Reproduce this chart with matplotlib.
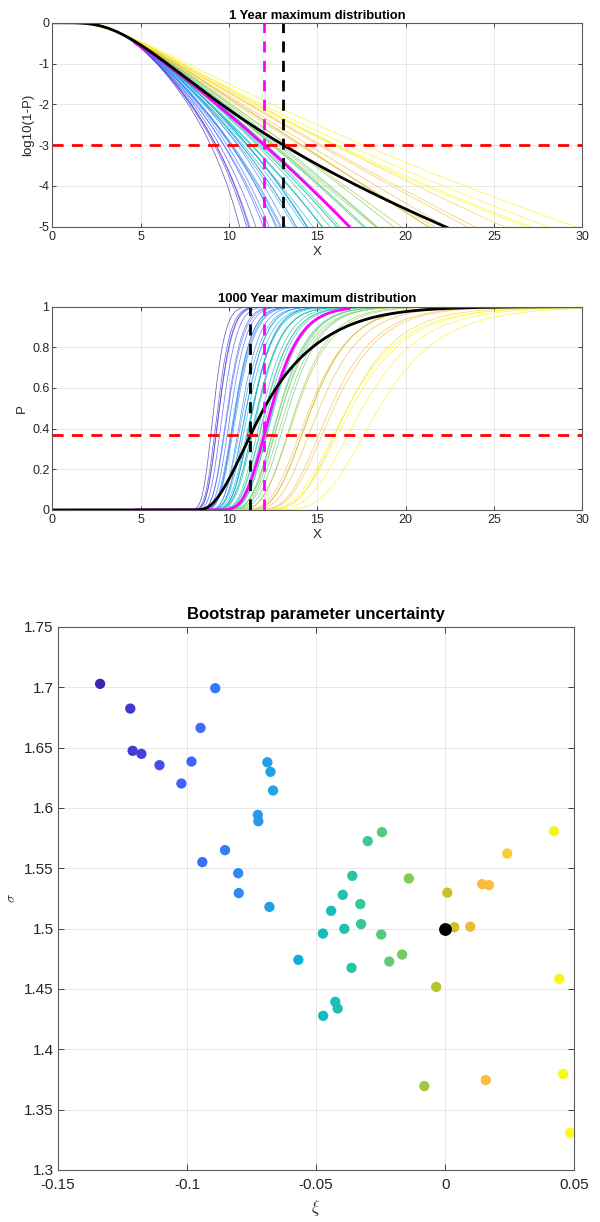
import numpy as np
import matplotlib.pyplot as plt
from matplotlib.colors import LinearSegmentedColormap
from matplotlib.ticker import FuncFormatter

plt.rcParams['font.family'] = ['Liberation Sans', 'DejaVu Sans']
plt.rcParams['mathtext.fontset'] = 'cm'

# bootstrap parameter estimates (shape xi, scale sigma)
xi = [-0.1337, -0.1220, -0.1211, -0.1177, -0.1107, -0.1022, -0.0983, -0.0948,
      -0.0891, -0.0941, -0.0853, -0.0802, -0.0800, -0.0726, -0.0724, -0.0689,
      -0.0677, -0.0667, -0.0681, -0.0569, -0.0245, -0.0300, -0.0360, -0.0141,
      0.0008, 0.0143, 0.0169, 0.0240, 0.0421, -0.0397, -0.0329, -0.0442,
      -0.0326, -0.0391, -0.0474, -0.0248, 0.0035, 0.0097, -0.0363, -0.0217,
      -0.0167, -0.0035, 0.0442, -0.0426, -0.0417, -0.0473, -0.0081, 0.0157,
      0.0457, 0.0484]
sigma = [1.7028, 1.6823, 1.6473, 1.6448, 1.6354, 1.6202, 1.6384, 1.6663,
         1.6992, 1.5551, 1.5650, 1.5459, 1.5294, 1.5942, 1.5890, 1.6378,
         1.6299, 1.6144, 1.5180, 1.4741, 1.5799, 1.5725, 1.5437, 1.5415,
         1.5298, 1.5368, 1.5360, 1.5622, 1.5807, 1.5280, 1.5203, 1.5147,
         1.5037, 1.4998, 1.4959, 1.4951, 1.5011, 1.5016, 1.4675, 1.4727,
         1.4785, 1.4517, 1.4584, 1.4393, 1.4338, 1.4277, 1.3695, 1.3745,
         1.3795, 1.3306]
true_xi = 0.0
true_sigma = 1.5

# events per year and the point where all fits agree (x, log10(1-P))
n_events = 14
x_pivot = 3.8
y_pivot = -0.25
n_years = 1000

# reference distribution (magenta), annual GEV, and its x range
ref_shape, ref_scale, ref_loc = -0.03, 1.38, 3.38
ref_range = (4.7, 16.8)

parula = LinearSegmentedColormap.from_list('parula', [
    (0.2422, 0.1504, 0.6603), (0.2706, 0.2147, 0.8364), (0.2813, 0.3006, 0.9414),
    (0.2699, 0.3892, 0.9906), (0.1963, 0.4847, 0.9892), (0.1687, 0.5703, 0.9359),
    (0.1248, 0.6459, 0.8883), (0.0297, 0.7082, 0.8163), (0.0964, 0.7500, 0.7120),
    (0.2161, 0.7843, 0.5923), (0.3909, 0.8029, 0.4354), (0.6174, 0.7876, 0.2612),
    (0.8203, 0.7498, 0.1535), (0.9728, 0.7298, 0.2394), (0.9892, 0.8136, 0.1885),
    (0.9597, 0.9135, 0.1423), (0.9769, 0.9839, 0.0805)])


def gev_t(x, k, s, m):
    # -log(F) of a GEV
    z = 1 + k * (x - m) / s
    with np.errstate(divide='ignore', invalid='ignore'):
        t = np.where(z > 0, np.abs(z) ** (-1.0 / k), np.inf if k > 0 else 0.0)
    return t


x = np.linspace(0, 30, 1501)
t0 = -np.log(1 - 10 ** y_pivot)
ts = []
for k, s in zip(xi, sigma):
    s_year = s * n_events ** k
    z0 = (t0 ** (-k) - 1) / k
    m = x_pivot - z0 * s_year
    ts.append(gev_t(x, k, s_year, m))
ts = np.array(ts)

exceed = -np.expm1(-ts)
with np.errstate(divide='ignore'):
    log_exceed = np.log10(exceed)
    mean_log_exceed = np.log10(exceed.mean(axis=0))
p_long = np.exp(-n_years * ts)
mean_p_long = p_long.mean(axis=0)

xr = np.linspace(ref_range[0], ref_range[1], 300)
tr = gev_t(xr, ref_shape, ref_scale, ref_loc)
ref_log_exceed = np.log10(-np.expm1(-tr))
ref_p_long = np.exp(-n_years * tr)

# where the curves cross the red levels
red_top = -3
red_mid = np.exp(-1)
black_top_x = np.interp(-red_top, -mean_log_exceed, x)
black_mid_x = np.interp(red_mid, mean_p_long, x)
mag_x = np.interp(-red_top, -ref_log_exceed, xr)

norm = plt.Normalize(min(xi), max(xi))
colors = parula(norm(np.array(xi)))

fig = plt.figure(figsize=(6, 12.22), dpi=100)
ax1 = fig.add_axes([0.0872, 0.8145, 0.8833, 0.1669])
ax2 = fig.add_axes([0.0872, 0.5827, 0.8833, 0.1664])
ax3 = fig.add_axes([0.0967, 0.0426, 0.8605, 0.4444])

fmt = FuncFormatter(lambda v, p: '%g' % round(v, 4))
dark = '#262626'


def style(ax, size, ticklen):
    ax.grid(True, color=dark, alpha=0.12, lw=0.6)
    ax.set_axisbelow(True)
    ax.tick_params(direction='in', top=True, right=True, length=ticklen,
                   width=0.6, labelsize=size, colors=dark, pad=2)
    for sp in ax.spines.values():
        sp.set_color('#5a5a5a')
        sp.set_linewidth(0.8)
    ax.xaxis.set_major_formatter(fmt)
    ax.yaxis.set_major_formatter(fmt)


# 1 year
for i in range(len(xi)):
    ax1.plot(x, log_exceed[i], color=colors[i], lw=0.55, alpha=0.75)
ax1.plot(xr, ref_log_exceed, color='#ff00ff', lw=2)
ax1.plot(x, mean_log_exceed, color='k', lw=2)
ax1.axhline(red_top, color='#ff0000', lw=2, ls=(0, (4, 3)))
ax1.axvline(mag_x, color='#ff00ff', lw=2, ls=(0, (4, 3)))
ax1.axvline(black_top_x, color='k', lw=2, ls=(0, (4, 3)))
ax1.set_xlim(0, 30)
ax1.set_ylim(-5, 0)
ax1.set_xticks(range(0, 31, 5))
ax1.set_yticks(range(-5, 1))
style(ax1, 9, 3)
ax1.tick_params(axis='x', pad=3)
ax1.set_xlabel('X', fontsize=9.5, color=dark, labelpad=2)
ax1.set_ylabel('log10(1-P)', fontsize=9.5, color=dark, labelpad=3)
ax1.set_title('1 Year maximum distribution', fontsize=9.4, fontweight='bold', pad=3)

# 1000 year
for i in range(len(xi)):
    ax2.plot(x, p_long[i], color=colors[i], lw=0.55, alpha=0.75)
ax2.plot(xr, ref_p_long, color='#ff00ff', lw=2)
ax2.plot(x, mean_p_long, color='k', lw=2)
ax2.axhline(red_mid, color='#ff0000', lw=2, ls=(0, (4, 3)))
ax2.axvline(black_mid_x, color='k', lw=2, ls=(0, (4, 3)))
ax2.axvline(mag_x, color='#ff00ff', lw=2, ls=(0, (4, 3)))
ax2.set_xlim(0, 30)
ax2.set_ylim(0, 1)
ax2.set_xticks(range(0, 31, 5))
ax2.set_yticks(np.arange(0, 1.01, 0.2))
style(ax2, 9, 3)
ax2.tick_params(axis='x', pad=3)
ax2.set_xlabel('X', fontsize=9.5, color=dark, labelpad=2)
ax2.set_ylabel('P', fontsize=9.5, color=dark, labelpad=3)
ax2.set_title('1000 Year maximum distribution', fontsize=9.4, fontweight='bold', pad=3)

# bootstrap scatter
ax3.scatter(xi, sigma, s=55, c=xi, cmap=parula, norm=norm, zorder=3, linewidths=0)
ax3.scatter([true_xi], [true_sigma], s=85, color='k', zorder=4, linewidths=0)
ax3.set_xlim(-0.15, 0.05)
ax3.set_ylim(1.3, 1.75)
ax3.set_xticks(np.arange(-0.15, 0.051, 0.05))
ax3.set_yticks(np.arange(1.3, 1.751, 0.05))
style(ax3, 11, 4)
ax3.tick_params(axis='x', pad=6)
ax3.tick_params(axis='y', pad=3)
ax3.set_xlabel(r'$\xi$', fontsize=12, color=dark, labelpad=4)
ax3.set_ylabel(r'$\sigma$', fontsize=10, color=dark, labelpad=4)
ax3.set_title('Bootstrap parameter uncertainty', fontsize=12, fontweight='bold', pad=6)

fig.savefig('out.png', dpi=100)
